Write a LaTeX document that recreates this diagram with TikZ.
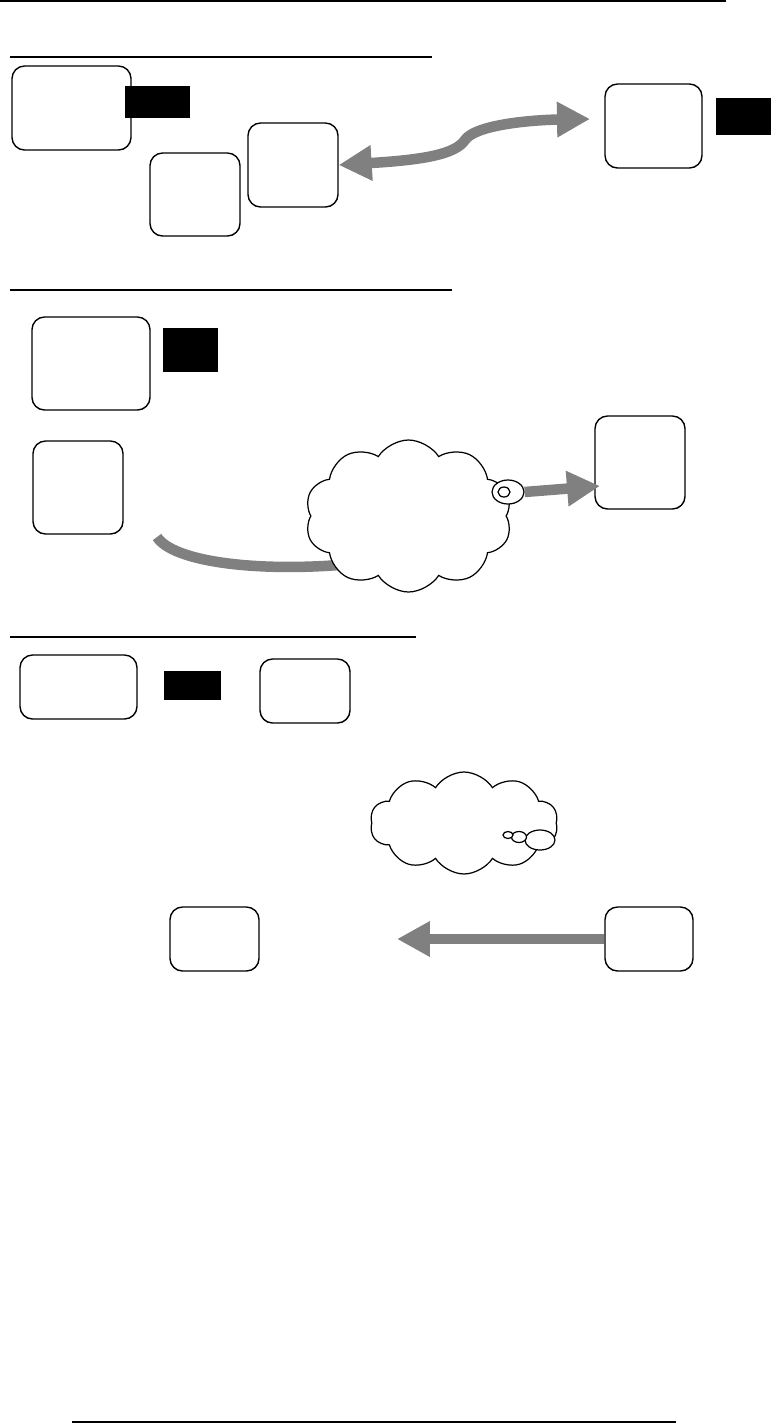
\documentclass[tikz,border=0pt]{standalone}
\usepackage{xcolor}
\usepackage{tikz}
\usetikzlibrary{arrows.meta, positioning, shapes.geometric, shapes.symbols}
\definecolor{flowgray}{RGB}{128, 128, 128}

\tikzset{
  panel/.style={draw, line width=0.8pt, rounded corners=0.25cm, fill=white, inner sep=0pt},
  blackmark/.style={fill=black, inner sep=0pt},
  rule/.style={line width=0.75pt},
  flow/.style={draw=flowgray, line width=0.21cm},
  flowtip/.tip={Triangle[length=0.66cm, width=0.67cm]},
  puffcloud/.style={cloud, cloud puffs=10, cloud puff arc=115, draw, line width=0.7pt, fill=white, inner sep=0pt},
  bubble/.style={ellipse, draw, line width=0.7pt, fill=white, inner sep=0pt}
}

\begin{document}
\begin{tikzpicture}[x=0.02cm, y=-0.02cm]
  \useasboundingbox (0,0) rectangle (771,1424);

  \draw[rule] (0,1) -- (726,1);
  \draw[rule] (10,57) -- (432,57);
  \draw[rule] (10,290) -- (452,290);
  \draw[rule] (10,637) -- (416,637);
  \draw[line width=1.1pt] (72,1422) -- (676,1422);

  \node[panel, minimum width=2.38cm, minimum height=1.68cm] (A1) at (71.5,108) {};
  \node[blackmark, minimum width=1.30cm, minimum height=0.64cm] (KA) at (157.5,102) {};
  \node[panel, minimum width=1.80cm, minimum height=1.66cm] (A2) at (195,194.5) {};
  \node[panel, minimum width=1.80cm, minimum height=1.68cm] (A3) at (293,165) {};
  \node[panel, minimum width=1.94cm, minimum height=1.68cm] (A4) at (653.5,126) {};
  \node[blackmark, minimum width=1.10cm, minimum height=0.74cm] (KA2) at (743.5,116.5) {};
  \coordinate (TA) at (590,119);

  \draw[flow, flowtip-flowtip] (A3.east) .. controls (420,160) and (455,155) .. (465,140)
    .. controls (475,125) and (530,120) .. (TA);

  \node[panel, minimum width=2.36cm, minimum height=1.86cm] (B1) at (91,363.5) {};
  \node[blackmark, minimum width=1.10cm, minimum height=0.88cm] (KB) at (190.5,350) {};
  \node[panel, minimum width=1.80cm, minimum height=1.86cm] (B2) at (78,487.5) {};
  \node[panel, minimum width=1.80cm, minimum height=1.86cm] (B3) at (640,462.5) {};
  \coordinate (SB) at (157,537);
  \coordinate (EB) at (385,560);
  \coordinate (TB) at (600,486);

  \draw[flow] (SB) .. controls (175,565) and (280,575) .. (EB);
  \node[puffcloud, minimum width=4.14cm, minimum height=3.04cm] (CB) at (408.5,516) {};
  \node[bubble, minimum width=0.64cm, minimum height=0.48cm] (TL) at (508,492) {};
  \node[bubble, minimum width=0.24cm, minimum height=0.20cm] (TLi) at (504,492) {};
  \draw[flow, -flowtip] (TL.east) -- (TB);

  \node[panel, minimum width=2.34cm, minimum height=1.28cm] (C1) at (78.5,687) {};
  \node[blackmark, minimum width=1.14cm, minimum height=0.58cm] (KC) at (192.5,685.5) {};
  \node[panel, minimum width=1.80cm, minimum height=1.28cm] (C2) at (305,691) {};
  \node[puffcloud, minimum width=3.76cm, minimum height=2.04cm] (CC) at (464,823) {};
  \node[bubble, minimum width=0.60cm, minimum height=0.40cm] (BU1) at (540,840) {};
  \node[bubble, minimum width=0.30cm, minimum height=0.22cm] (BU2) at (519,837) {};
  \node[bubble, minimum width=0.20cm, minimum height=0.14cm] (BU3) at (508,835) {};
  \node[panel, minimum width=1.78cm, minimum height=1.28cm] (C3) at (214.5,939) {};
  \node[panel, minimum width=1.76cm, minimum height=1.28cm] (C4) at (649,939) {};
  \coordinate (TC) at (397,939);

  \draw[flow, -flowtip] (C4.west) -- (TC);
\end{tikzpicture}
\end{document}
